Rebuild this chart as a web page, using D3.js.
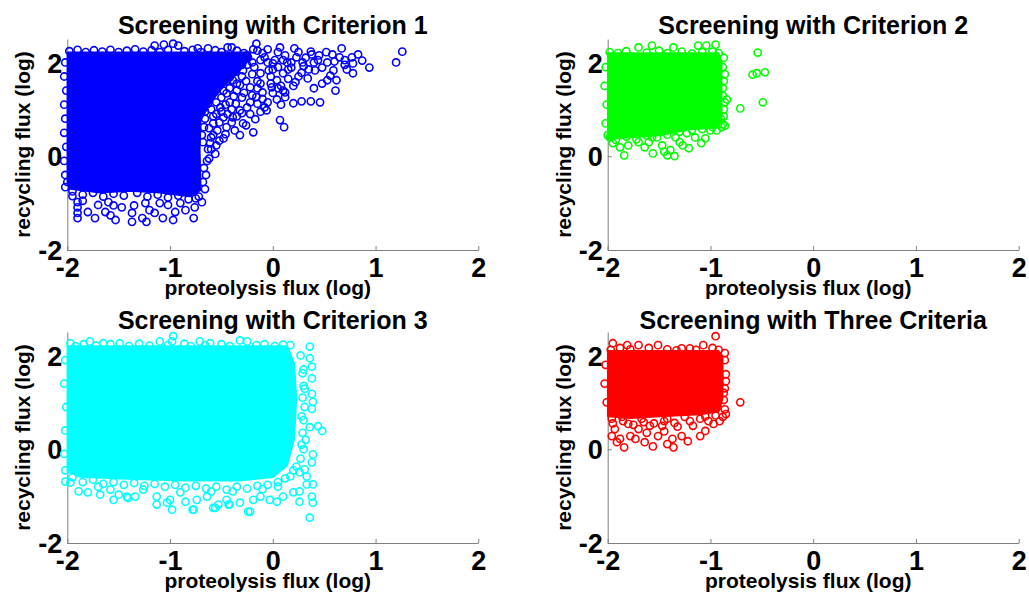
<!DOCTYPE html>
<html>
<head>
<meta charset="utf-8">
<script src="https://cdn.jsdelivr.net/npm/d3@7"></script>
<style>
  body { margin: 0; background: #fff; }
  svg { display: block; font-family: "Liberation Sans", Arial, Helvetica, sans-serif; }
</style>
</head>
<body>
<svg id="viz" width="1029" height="595"></svg>
<script>
// panel titles and colours (MATLAB style: b, g, c, r)
const titles = ["Screening with Criterion 1", "Screening with Criterion 2",
                "Screening with Criterion 3", "Screening with Three Criteria"];
const colors = ["#0000ff", "#00ff00", "#00ffff", "#ff0000"];
const xTicks = [-2, -1, 0, 1, 2];
const yTicks = [-2, 0, 2];

// dense cores (outline of the solid blob, log units)
const core1 = [[-2.0,2.22],[-0.22,2.22],[-0.22,2.08],[-0.34,1.78],[-0.48,1.48],[-0.60,1.16],
  [-0.70,0.77],[-0.71,0.13],[-0.70,-0.72],[-0.81,-0.86],[-1.10,-0.78],[-1.39,-0.74],
  [-1.68,-0.78],[-1.97,-0.70],[-2.0,-0.55]];
const core2 = [[-2.0,2.20],[-0.92,2.20],[-0.89,2.0],[-0.89,0.70],[-0.97,0.60],[-1.20,0.57],
  [-1.49,0.44],[-1.78,0.40],[-2.0,0.36]];
const core3 = [[-2.0,2.20],[0.14,2.20],[0.21,1.83],[0.23,1.08],[0.21,0.22],[0.14,-0.35],
  [0.0,-0.60],[-0.32,-0.67],[-0.90,-0.67],[-1.49,-0.63],[-1.88,-0.59],[-2.0,-0.48]];
const core4 = [[-2.0,2.10],[-0.92,2.10],[-0.88,1.94],[-0.88,1.08],[-0.92,0.80],[-1.10,0.74],
  [-1.49,0.70],[-1.78,0.66],[-2.0,0.70]];

// individual markers around the cores
const points1 = [
  [-1.15,2.36],[-1.06,2.38],[-0.97,2.40],[-0.92,2.36],[-0.73,2.30],[-0.63,2.30],[-0.44,2.32],
  [-0.40,2.32],[-0.16,2.40],[-0.19,2.28],[0.07,2.32],[0.21,2.30],[0.37,2.23],[0.38,2.17],
  [0.67,2.30],[0.58,2.17],[0.65,2.11],[0.77,2.11],[0.83,2.17],[0.87,2.04],[0.94,1.89],
  [0.78,1.98],[0.78,1.77],[1.26,2.23],[1.20,2.00],[0.61,1.40],[0.53,1.62],[0.46,1.15],
  [0.37,1.17],[0.28,1.17],[0.20,1.13],[0.12,1.26],[0.12,1.36],[0.04,1.21],[0.07,0.77],
  [0.11,0.62],[-0.06,0.98],[-0.17,0.79],[-0.19,0.51],[-0.32,0.45],[-0.26,0.66],[-0.46,0.47],
  [-0.55,0.23],[-0.61,0.28],[-0.48,0.38],
  [0.29,2.0],[0.23,2.11],[0.18,1.89],[0.41,1.83],[0.48,1.89],[0.53,2.0],[0.59,1.83],
  [0.56,1.72],[0.34,1.66],[0.48,1.55],[0.10,1.77],[0.04,1.62],[-0.01,1.47],[-0.10,1.36],
  [-0.16,1.26],[-0.22,1.15],[-0.08,1.04],[-0.32,0.98],[-0.39,0.83],[-0.45,0.62],[-0.54,0.55],
  [-0.25,1.04],[-0.35,1.40],[-0.22,1.47],[-0.12,1.77],[-0.04,1.83],[0.0,1.98],[0.14,2.0],
  [-0.08,2.11],[-0.29,1.83],[-0.39,1.62],[-0.45,1.34],[-0.51,1.04],[-0.48,0.83],[-0.29,0.70],
  [-0.37,0.55],[-0.20,2.0],[-0.10,2.20],[0.02,2.05],[0.30,1.92],[0.44,2.05],[0.70,1.95],
  [0.62,1.62],[0.40,1.45],[0.20,1.50],[0.25,1.70],[-0.30,1.25],[-0.42,1.15],[-0.55,0.90],
  [-0.58,0.70],[-0.40,1.00],[-0.15,1.60],[0.05,1.90],[0.15,1.65],
  [-0.15,2.25],[-0.05,2.28],[0.05,2.22],[0.12,2.15],[0.25,2.22],[0.32,2.10],[0.40,2.00],
  [0.45,2.15],[0.52,2.22],[0.60,2.02],[0.70,2.05],[0.72,1.85],[0.35,1.85],[0.28,1.78],
  [0.22,1.58],[0.08,1.50],[-0.02,1.70],[-0.18,1.90],[-0.26,1.60],[-0.32,1.52],[-0.28,1.35],
  [-0.38,1.28],[-0.50,1.25],[-0.46,1.10],[-0.36,1.12],[-0.15,1.12],[-0.10,1.22],[0.00,1.35],
  [0.08,1.10],[-0.40,0.72],[-0.52,0.72],[-0.58,0.45],[-0.52,0.33],
  [-0.25,2.15],[-0.20,1.75],[-0.30,1.70],[-0.42,1.45],[-0.48,1.40],[-0.55,1.15],[-0.60,1.00],
  [-0.58,0.85],[-0.50,0.95],[-0.44,0.90],[-0.35,0.85],[-0.30,0.92],[-0.22,0.90],[-0.12,0.95],
  [-0.05,1.15],[-0.02,1.55],[0.05,1.45],[0.10,1.40],[0.15,1.85],[0.18,2.0],[0.10,2.05],
  [-0.05,2.0],[-0.12,2.05],[-0.25,1.95],[-0.15,1.45],[-0.20,1.30],[-0.12,1.55],[0.00,1.85],
  [-0.35,1.55],[-0.45,1.60],[-0.40,1.90],[-0.50,1.80],[-0.62,0.60],[-0.60,0.15],[-0.56,0.05],
  [-0.62,-0.05],
  [-1.98,2.24],[-1.90,2.27],[-1.82,2.22],[-1.74,2.26],[-1.66,2.23],[-1.58,2.27],[-1.50,2.22],
  [-1.42,2.25],[-1.34,2.28],[-1.26,2.23],[-1.18,2.26],[-1.10,2.22],[-1.02,2.27],[-0.86,2.24],
  [-0.78,2.27],[-0.70,2.22],[-0.56,2.26],[-0.50,2.22],[-0.35,2.25],[-0.28,2.20],[-0.24,2.10],
  [-2.02,2.0],[-2.03,1.7],[-2.01,1.4],[-2.03,1.1],[-2.02,0.8],[-2.03,0.5],[-2.01,0.2],
  [-2.03,-0.1],[-2.02,-0.4],[-2.0,-0.55],
  [-0.30,1.95],[-0.36,1.80],[-0.42,1.68],[-0.50,1.55],[-0.56,1.42],[-0.60,1.28],[-0.63,1.12],
  [-0.66,0.95],[-0.66,0.80],[-0.67,0.62],
  [-1.95,-0.75],[-1.85,-0.82],[-1.75,-0.78],[-1.65,-0.86],[-1.55,-0.80],[-1.45,-0.84],
  [-1.32,-0.78],[-1.22,-0.86],[-1.12,-0.82],[-1.02,-0.88],[-0.92,-0.84],[-0.82,-0.92],
  [-0.72,-0.86],[-0.68,-0.55],[-0.67,-0.25],[-0.68,0.30],[-0.69,0.45],
  [-1.90,-1.32],[-1.90,-1.21],[-1.80,-1.19],[-1.73,-1.32],[-1.90,-1.09],[-1.63,-1.19],
  [-1.53,-1.36],[-1.58,-1.26],[-1.37,-1.21],[-1.37,-1.40],[-1.27,-1.32],[-1.23,-1.40],
  [-1.15,-1.21],[-1.07,-1.32],[-0.97,-1.36],[-0.95,-1.19],[-0.85,-1.15],[-0.77,-1.32],
  [-0.76,-1.09],[-0.69,-0.98],[-1.90,-0.98],[-1.70,-1.04],[-1.47,-1.09],[-1.24,-1.00],
  [-1.02,-1.04],[-2.02,-0.66],[-1.60,-0.98],[-1.35,-1.05],[-1.10,-1.00],[-0.90,-1.00],
  [-0.75,-0.90],[-1.95,-0.85],[-1.85,-0.95],[-1.55,-1.05],[-1.20,-1.15],
  [-0.66,-0.70],[-0.65,-0.40],[-0.64,-0.10],[-0.63,0.15],[-0.60,0.40]
];
const points2 = [
  [-0.54,2.21],[-0.59,1.74],[-0.55,1.77],[-0.47,1.79],[-0.49,1.15],[-0.71,1.02],[-0.84,1.21],
  [-1.12,2.36],[-1.04,2.36],[-0.95,2.38],[-0.98,2.23],[-1.57,2.36],[-1.36,2.32],[-1.70,2.32],
  [-1.84,0.02],[-1.56,0.06],[-1.35,0.00],[-1.39,0.13],[-1.21,0.17],[-1.09,0.28],[-1.05,0.38],
  [-0.89,0.62],[-0.88,0.68],[-1.95,0.28],[-1.88,0.19],[-1.80,0.23],[-1.70,0.30],[-1.64,0.19],
  [-1.47,0.23],[-1.42,0.02],[-1.27,0.23],[-1.15,0.40],[-1.00,0.55],[-0.94,0.55],[-1.98,0.40],
  [-1.76,0.49],[-1.57,0.40],[-1.34,0.40],[-1.23,0.49],[-1.45,0.10],[-1.30,0.30],[-1.60,0.30],
  [-0.88,1.90],[-0.87,1.60],[-0.88,1.30],[-0.87,1.00],[-0.90,0.80],[-0.86,0.65],
  [-1.98,2.22],[-1.90,2.20],[-1.82,2.24],[-1.62,2.21],[-1.50,2.25],[-1.42,2.20],[-1.28,2.23],
  [-1.18,2.19],[-1.08,2.22],[-0.92,2.20],
  [-2.02,1.9],[-2.03,1.5],[-2.01,1.1],[-2.02,0.7],[-2.0,0.45],
  [-1.92,0.35],[-1.82,0.42],[-1.72,0.36],[-1.62,0.44],[-1.52,0.40],[-1.42,0.46],[-1.30,0.52],
  [-1.18,0.56],[-1.08,0.58],[-0.98,0.62],
  [-0.87,2.1],[-0.86,1.75],[-0.88,1.45],[-0.86,1.15],[-0.87,0.85]
];
const points3 = [
  [-0.97,2.41],[-0.98,2.30],[-0.71,2.30],[-0.61,2.26],[-0.32,2.32],[-0.25,2.30],[0.17,2.22],
  [0.36,2.19],[-1.78,2.30],[-1.65,2.26],[-1.49,2.26],[-1.10,2.30],[-1.97,2.26],
  [0.36,1.94],[0.38,1.76],[0.38,1.51],[0.31,1.29],[0.38,1.18],[0.39,1.01],[0.38,0.86],
  [0.44,0.49],[0.48,0.39],[0.36,0.47],[0.39,-0.11],[0.38,-0.28],[0.31,-0.43],[0.39,-0.75],
  [0.33,-0.75],[0.26,-0.90],[0.38,-1.01],[0.39,-1.14],[0.36,-1.46],[0.20,-0.92],[0.26,-1.12],
  [0.10,-1.01],[-0.03,-1.08],[0.04,-1.12],[0.17,-0.58],[0.26,-0.49],[0.33,-0.58],[0.23,-0.37],
  [0.30,1.70],[0.32,0.20],[0.30,0.00],[0.28,0.70],
  [-0.22,-1.33],[-0.19,-1.08],[-0.32,-1.14],[-0.42,-1.18],[-0.58,-1.25],[-0.53,-1.18],
  [-0.77,-1.29],[-0.85,-1.12],[-0.98,-1.29],[-1.03,-1.14],[-1.13,-1.18],[-1.13,-1.01],
  [-1.34,-1.01],[-1.41,-1.04],[-1.55,-1.08],[-1.50,-0.97],[-1.68,-0.97],[-1.80,-0.92],
  [-1.89,-0.90],[-1.97,-0.71],[-0.74,-1.08],[-0.64,-1.01],[-0.45,-1.08],[-0.90,-0.92],
  [-1.26,-0.86],[-1.58,-0.86],[-0.39,-0.90],[-0.12,-1.01],[-2.02,-0.69],[-1.42,-1.01],
  [-1.00,-1.08],[-0.24,-1.33],[-0.56,-1.25],[-0.43,-1.18],[-0.78,-1.29],[-0.10,-0.85],
  [-0.60,-0.90],[-1.70,-0.80],[0.05,-0.80],
  [-1.92,2.20],[-1.84,2.24],[-1.72,2.21],[-1.58,2.24],[-1.40,2.20],[-1.30,2.25],[-1.20,2.21],
  [-1.02,2.22],[-0.86,2.25],[-0.80,2.20],[-0.66,2.22],[-0.50,2.24],[-0.42,2.20],[-0.16,2.22],
  [-0.08,2.24],[0.02,2.20],[0.10,2.23],
  [0.27,2.0],[0.29,1.62],[0.30,1.35],[0.29,1.10],[0.31,0.90],[0.30,0.62],[0.29,0.35],
  [0.28,0.10],[0.27,-0.20],
  [-1.95,-0.60],[-1.85,-0.70],[-1.75,-0.65],[-1.65,-0.74],[-1.55,-0.70],[-1.45,-0.76],
  [-1.35,-0.72],[-1.25,-0.78],[-1.15,-0.74],[-1.05,-0.80],[-0.95,-0.76],[-0.85,-0.82],
  [-0.75,-0.78],[-0.65,-0.84],[-0.55,-0.80],[-0.45,-0.86],[-0.35,-0.80],[-0.25,-0.84],
  [-0.15,-0.78],[-0.05,-0.76],[0.05,-0.70],[0.12,-0.62],[0.20,-0.45],
  [-2.02,1.9],[-2.03,1.4],[-2.01,0.9],[-2.02,0.4],[-2.03,-0.1],[-2.02,-0.45]
];
const points4 = [
  [-0.95,2.41],[-1.95,2.26],[-1.81,2.22],[-1.70,2.22],[-1.51,2.22],[-1.33,2.11],[-1.20,2.15],
  [-1.07,2.22],[-0.71,1.00],
  [-1.84,0.04],[-1.88,0.22],[-1.93,0.43],[-1.96,0.28],[-1.78,0.28],[-1.70,0.43],[-1.64,0.15],
  [-1.56,0.06],[-1.51,0.28],[-1.42,0.11],[-1.36,0.04],[-1.37,0.22],[-1.28,0.28],[-1.22,0.17],
  [-1.10,0.28],[-1.05,0.39],[-0.97,0.54],[-0.91,0.60],[-0.88,0.69],[-0.93,0.90],[-1.80,0.54],
  [-1.59,0.50],[-1.47,0.50],[-1.32,0.48],[-1.17,0.50],[-1.02,0.60],[-1.96,0.65],[-1.86,0.69],
  [-1.67,0.65],[-1.42,0.65],[-1.25,0.69],[-1.10,0.65],[-1.73,0.22],[-1.91,0.15],
  [-0.86,1.90],[-0.85,1.60],[-0.86,1.30],[-0.87,1.05],[-0.85,0.75],[-1.62,0.35],[-1.45,0.38],
  [-1.97,2.12],[-1.88,2.16],[-1.78,2.13],[-1.60,2.16],[-1.42,2.13],[-1.28,2.15],[-1.14,2.12],
  [-0.98,2.16],[-0.92,2.12],
  [-2.02,1.8],[-2.03,1.4],[-2.01,1.0],
  [-1.95,0.55],[-1.85,0.60],[-1.75,0.52],[-1.65,0.58],[-1.55,0.55],[-1.45,0.60],[-1.35,0.56],
  [-1.20,0.60],[-1.05,0.70],[-0.95,0.72],
  [-0.86,2.05],[-0.85,1.45],[-0.87,1.20],[-0.86,0.85]
];
const cores = [core1, core2, core3, core4];
const pointSets = [points1, points2, points3, points4];

const svg = d3.select("#viz");
const axisColor = "#808080";
const lefts = [67.3, 607.7];
const bottoms = [250, 543];
const plotW = 411, plotH = 211;

titles.forEach((title, i) => {
  const left = lefts[i % 2], bottom = bottoms[Math.floor(i / 2)];
  const x = d3.scaleLinear().domain([-2, 2]).range([left, left + plotW]);
  const y = d3.scaleLinear().domain([-2, 2.5]).range([bottom, bottom - plotH]);
  const g = svg.append("g");

  // axes
  const xAxis = g.append("g")
    .attr("transform", `translate(0,${bottom})`)
    .call(d3.axisBottom(x).tickValues(xTicks).tickSizeInner(-4).tickSizeOuter(0).tickFormat(d3.format("d")));
  xAxis.select(".domain").attr("stroke", axisColor);
  xAxis.selectAll(".tick line").attr("stroke", axisColor);
  xAxis.selectAll(".tick text")
    .attr("y", 27).attr("dy", 0)
    .attr("fill", "#000").attr("font-size", 27).attr("font-weight", "bold")
    .text(d => d < 0 ? "-" + Math.abs(d) : d);

  const yAxis = g.append("g")
    .attr("transform", `translate(${left},0)`)
    .call(d3.axisLeft(y).tickValues(yTicks).tickSizeInner(-4).tickSizeOuter(0));
  yAxis.select(".domain").attr("stroke", axisColor);
  yAxis.selectAll(".tick line").attr("stroke", axisColor);
  yAxis.selectAll(".tick text")
    .attr("x", -5).attr("dy", "0.36em")
    .attr("fill", "#000").attr("font-size", 27).attr("font-weight", "bold")
    .text(d => d < 0 ? "-" + Math.abs(d) : d);

  // dense core
  g.append("path")
    .datum(cores[i])
    .attr("d", d3.line().x(d => x(d[0])).y(d => y(d[1])).curve(d3.curveLinearClosed))
    .attr("fill", colors[i])
    .attr("stroke", colors[i])
    .attr("stroke-width", 1.5)
    .attr("stroke-linejoin", "round");

  // markers
  g.selectAll(".pt")
    .data(pointSets[i])
    .join("circle")
      .attr("class", "pt")
      .attr("cx", d => x(d[0]))
      .attr("cy", d => y(d[1]))
      .attr("r", 3.6)
      .attr("fill", "none")
      .attr("stroke", colors[i])
      .attr("stroke-width", 1.6);

  // labels
  g.append("text")
    .attr("x", left + plotW / 2)
    .attr("y", bottom - plotH - (i < 2 ? 5.5 : 3))
    .attr("text-anchor", "middle")
    .attr("font-size", 25).attr("font-weight", "bold")
    .text(title);

  g.append("text")
    .attr("x", left + plotW / 2 - 5)
    .attr("y", bottom + 45)
    .attr("text-anchor", "middle")
    .attr("font-size", 21).attr("font-weight", "bold")
    .text("proteolysis flux (log)");

  g.append("text")
    .attr("transform", `translate(${left - 37},${bottom - plotH / 2}) rotate(-90)`)
    .attr("text-anchor", "middle")
    .attr("font-size", 21).attr("font-weight", "bold")
    .text("recycling flux (log)");
});
</script>
</body>
</html>
